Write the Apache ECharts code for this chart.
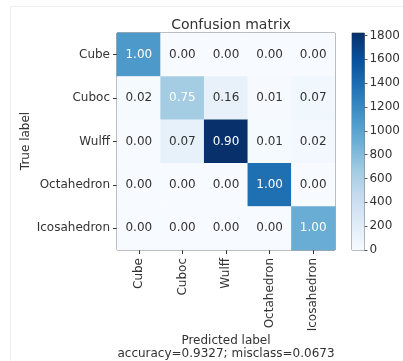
<!DOCTYPE html>
<html><head><meta charset="utf-8">
<script src="https://cdn.jsdelivr.net/npm/echarts@6/dist/echarts.min.js"></script>
<style>html,body{margin:0;padding:0;background:#fff}#c{width:403px;height:361px}</style>
</head><body><div id="c"></div>
<script>
const classes = ['Cube', 'Cuboc', 'Wulff', 'Octahedron', 'Icosahedron'];
// raw counts (drive colour), rows = true label, cols = predicted label
const countsCube        = [1080, 0, 0, 0, 0];
const countsCuboc       = [17, 650, 139, 9, 61];
const countsWulff       = [0, 142, 1820, 20, 40];
const countsOctahedron  = [0, 0, 0, 1380, 0];
const countsIcosahedron = [0, 0, 0, 0, 920];
// normalized values (shown as text)
const normCube        = ['1.00', '0.00', '0.00', '0.00', '0.00'];
const normCuboc       = ['0.02', '0.75', '0.16', '0.01', '0.07'];
const normWulff       = ['0.00', '0.07', '0.90', '0.01', '0.02'];
const normOctahedron  = ['0.00', '0.00', '0.00', '1.00', '0.00'];
const normIcosahedron = ['0.00', '0.00', '0.00', '0.00', '1.00'];
const colorbarMax = 1820;
const colorbarTicks = [0, 200, 400, 600, 800, 1000, 1200, 1400, 1600, 1800];
const titleText = 'Confusion matrix';
const xName = 'Predicted label';
const yName = 'True label';
const footer = 'accuracy=0.9327; misclass=0.0673';

const counts = [countsCube, countsCuboc, countsWulff, countsOctahedron, countsIcosahedron];
const norms = [normCube, normCuboc, normWulff, normOctahedron, normIcosahedron];
const blues = ['#f7fbff','#deebf7','#c6dbef','#9ecae1','#6baed6','#4292c6','#2171b5','#08519c','#08306b'];
const FONT = 'DejaVu Sans';
const TXT = '#333';

const data = [];
counts.forEach((row, r) => row.forEach((v, c) => {
  const n = parseFloat(norms[r][c]);
  data.push({ value: [c, r, v], norm: norms[r][c],
    label: { color: n > 0.5 ? '#fff' : TXT } });
}));

const chart = echarts.init(document.getElementById('c'));
chart.setOption({
  animation: false,
  backgroundColor: '#fff',
  textStyle: { fontFamily: FONT },
  title: { text: titleText, left: 226, top: 13, textAlign: 'center',
    textStyle: { fontFamily: FONT, fontSize: 14, fontWeight: 'normal', color: TXT } },
  grid: [
    { left: 117, top: 33, width: 218, height: 217, show: true, borderColor: '#555', borderWidth: 1, backgroundColor: 'transparent' },
    { left: 352, top: 33, width: 14, height: 217, show: true, borderColor: '#777', borderWidth: 1, backgroundColor: 'transparent' }
  ],
  xAxis: [
    { type: 'category', data: classes, gridIndex: 0, position: 'bottom',
      axisLine: { show: false }, splitLine: { show: false },
      axisTick: { show: true, alignWithLabel: true, length: 4, lineStyle: { color: '#333' } },
      axisLabel: { rotate: 90, fontFamily: FONT, fontSize: 12, color: TXT, margin: 8, interval: 0 } },
    { type: 'category', data: ['cb'], gridIndex: 1, show: false }
  ],
  yAxis: [
    { type: 'category', data: classes, gridIndex: 0, inverse: true,
      axisLine: { show: false }, splitLine: { show: false },
      axisTick: { show: true, alignWithLabel: true, length: 4, lineStyle: { color: '#333' } },
      axisLabel: { fontFamily: FONT, fontSize: 12, color: TXT, margin: 7 } },
    { type: 'value', gridIndex: 1, position: 'right', min: 0, max: colorbarMax, interval: 200,
      axisLine: { show: false }, splitLine: { show: false },
      axisTick: { show: true, length: 3, lineStyle: { color: '#555' } },
      axisLabel: { fontFamily: FONT, fontSize: 12, color: TXT, margin: 5, showMaxLabel: false,
        formatter: v => colorbarTicks.includes(v) ? String(v) : '' } }
  ],
  visualMap: { show: false, min: 0, max: colorbarMax, seriesIndex: 0, inRange: { color: blues } },
  series: [
    { type: 'heatmap', xAxisIndex: 0, yAxisIndex: 0, data: data,
      label: { show: true, fontFamily: FONT, fontSize: 12, formatter: p => p.data.norm } },
    { type: 'bar', xAxisIndex: 1, yAxisIndex: 1, data: [colorbarMax], barWidth: '100%', silent: true,
      itemStyle: { color: { type: 'linear', x: 0, y: 1, x2: 0, y2: 0,
        colorStops: blues.map((c, i) => ({ offset: i / (blues.length - 1), color: c })) } } }
  ],
  graphic: [
    { type: 'rect', shape: { x: 10.5, y: 6.5, width: 420, height: 400 }, style: { fill: 'none', stroke: '#eee', lineWidth: 1 }, silent: true },
    { type: 'text', x: 26, y: 141, rotation: Math.PI / 2, style: { text: yName, fontFamily: FONT, fontSize: 12, fill: TXT, align: 'center', verticalAlign: 'middle' } },
    { type: 'text', x: 226, y: 341, style: { text: xName, fontFamily: FONT, fontSize: 12, fill: TXT, align: 'center', verticalAlign: 'middle' } },
    { type: 'text', x: 226, y: 354, style: { text: footer, fontFamily: FONT, fontSize: 12, fill: TXT, align: 'center', verticalAlign: 'middle' } }
  ]
});
</script></body></html>
